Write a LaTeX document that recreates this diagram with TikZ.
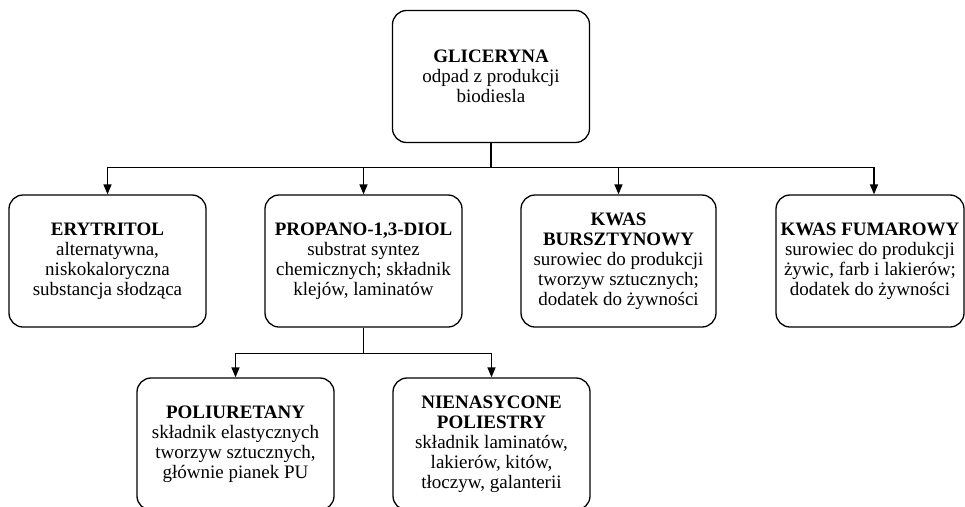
\documentclass[tikz,border=0pt]{standalone}
\usepackage{fontspec}
\setmainfont{Liberation Serif}
\usetikzlibrary{arrows.meta}
\begin{document}
\begin{tikzpicture}[x=1pt, y=-1pt, >={Triangle[width=8pt,length=10pt]}, font=\fontsize{19}{20}\selectfont]
      \tikzset{box/.style={draw, line width=1.3pt, rounded corners=14pt, minimum width=197pt, minimum height=132pt, align=center, fill=white}}
      \useasboundingbox (0,0) rectangle (965,506);
      \node[box] (glic) at (491,76.5) {\textbf{GLICERYNA}\\odpad z produkcji\\biodiesla};
      \node[box] (eryt) at (107.5,261) {\textbf{ERYTRITOL}\\alternatywna,\\niskokaloryczna\\substancja słodząca};
      \node[box] (prop) at (363.5,261) {\textbf{PROPANO-1,3-DIOL}\\substrat syntez\\chemicznych; składnik\\klejów,\ laminatów};
      \node[box, minimum width=195pt] (bursz) at (618.5,261) {\textbf{KWAS}\\\textbf{BURSZTYNOWY}\\surowiec do produkcji\\tworzyw sztucznych;\\dodatek do żywności};
      \node[box, minimum width=188pt] (fumar) at (870,261) {\textbf{KWAS FUMAROWY}\\surowiec do produkcji\\żywic, farb i lakierów;\\dodatek do żywności};
      \node[box] (poliur) at (235.5,444) {\textbf{POLIURETANY}\\składnik elastycznych\\tworzyw sztucznych,\\głównie pianek PU};
      \node[box] (polies) at (491.5,444) {\textbf{NIENASYCONE}\\\textbf{POLIESTRY}\\składnik laminatów,\\lakierów, kitów,\\tłoczyw, galanterii};
      \draw[line width=1.3pt] (glic.south) -- ++(0,24) coordinate (top);
      \draw[line width=1.3pt, ->] (top) -| (eryt);
      \draw[line width=1.3pt, ->] (top) -| (prop);
      \draw[line width=1.3pt, ->] (top) -| (bursz);
      \draw[line width=1.3pt, ->] (top) -| ([xshift=4pt]fumar.north);
      \draw[line width=1.3pt] (prop.south) -- ++(0,26) coordinate (mid);
      \draw[line width=1.3pt, ->] (mid) -| (poliur);
      \draw[line width=1.3pt, ->] (mid) -| (polies);
    \end{tikzpicture}
\end{document}
